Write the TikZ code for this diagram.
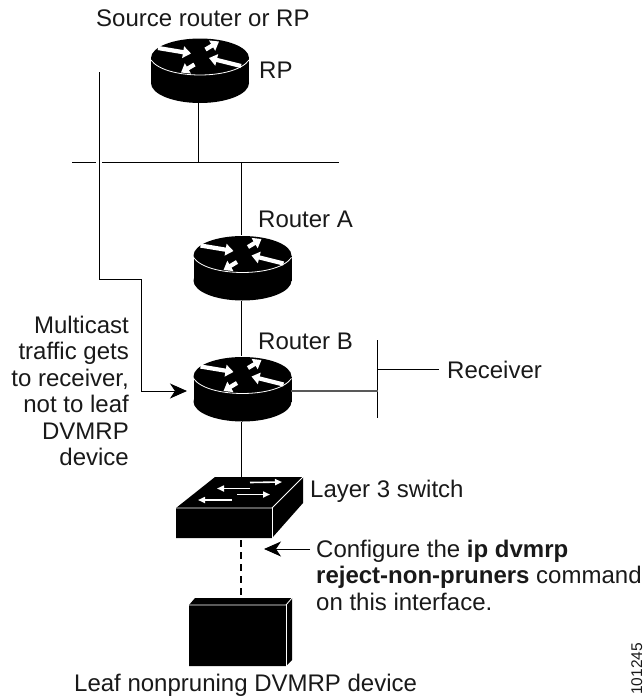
\documentclass[tikz,border=0pt]{standalone}
\usepackage{fontspec}
\setmainfont{Liberation Sans}
\usetikzlibrary{arrows.meta}
\tikzset{
  x=1pt,y=-1pt,
  wire/.style={line width=1pt,draw=black},
  lab/.style={inner sep=0pt,font=\fontsize{24}{26.5}\selectfont,text=black!90},
  devicebox/.style={inner sep=0pt,draw=none,minimum width=98pt,minimum height=65pt},
  wa/.style={draw=white,line width=4.2pt,-{Triangle[length=8pt,width=11.5pt]}},
  swa/.style={draw=white,line width=1.6pt,-{Triangle[length=7pt,width=6pt]}},
}
\newcommand{\routerbody}[2]{%
  \begin{scope}[shift={(#1,#2)}]
    \fill[black] (-49,0) rectangle (49,25);
    \fill[black] (0,25) ellipse[x radius=49,y radius=20];
    \fill[black] (0,0) ellipse[x radius=49,y radius=19.5];
    \draw[white,line width=.8pt] (-49,2) .. controls (-35,22) and (35,22) .. (49,2);
    \draw[wa] (-42,-10) -- (-9,-4.5);
    \draw[wa] (5.5,-8.5) -- (19,-16.5);
    \draw[wa] (-5.5,6.5) -- (-19,14.5);
    \draw[wa] (41,8) -- (9,0);
  \end{scope}}
\begin{document}
\begin{tikzpicture}
\useasboundingbox (0,0) rectangle (644,696);
% devices
\routerbody{200}{58}
\routerbody{242.5}{255.5}
\routerbody{242.5}{376.5}
\node[devicebox] (rp) at (200,70.5) {};
\node[devicebox] (ra) at (242.5,268) {};
\node[devicebox] (rb) at (242.5,389) {};
% switch
\fill[black] (176,508) -- (215,477) -- (303,477) -- (303,503) -- (272,538) -- (176,538) -- cycle;
\draw[white,line width=.8pt] (176,508) -- (272,508) -- (303,477);
\draw[white,line width=.8pt] (272,508) -- (272,538);
\draw[swa] (250,482.5) -- (282,482);
\draw[swa] (250,488.5) -- (217,488.5);
\draw[swa] (237,494.5) -- (270,494.5);
\draw[swa] (232,500) -- (198,500);
\node[inner sep=0pt,minimum width=127pt,minimum height=61pt] (sw) at (239.5,507.5) {};
% leaf
\fill[black] (189,605) -- (195,598) -- (292,598) -- (292,660) -- (286,666) -- (189,666) -- cycle;
\draw[white,line width=.8pt] (189,605) -- (286,605) -- (292,598);
\draw[white,line width=.8pt] (286,605) -- (286,666);
\node[inner sep=0pt,minimum width=103pt,minimum height=68pt] (leaf) at (240.5,632) {};
% connectors
\coordinate (busL) at (72,162);
\coordinate (busR) at (339,162);
\coordinate (busgapL) at (96,162);
\coordinate (busgapR) at (102,162);
\coordinate (xrp) at (198,162);
\coordinate (xa) at (241,162);
\draw[wire] (busL) -- (busgapL);
\draw[wire] (busgapR) -- (busR);
\draw[wire] (rp.south -| xrp) -- (xrp);
\draw[wire] (xa) -- (ra.north -| xa);
\draw[wire] (ra.south -| xa) -- (rb.north -| xa);
\draw[wire] (rb.south -| xa) -- (sw.north -| xa);
\draw[wire,line width=1.2pt,dash pattern=on 7pt off 5pt] (sw.south -| xa) ++(0,2) -- (leaf.north -| xa);
% traffic path
\coordinate (pathA) at (99.5,72);
\coordinate (pathB) at (99.5,279);
\coordinate (pathC) at (141,279);
\coordinate (pathD) at (141,391);
\coordinate (pathE) at (187,391);
\draw[wire,-{Stealth[length=17pt,width=15pt,inset=5pt]}] (pathA) -- (pathB) -- (pathC) -- (pathD) -- (pathE);
% receiver LAN
\coordinate (lanT) at (377,340);
\coordinate (lanB) at (377,418);
\coordinate (lanR) at (378,391);
\coordinate (lanRx) at (377,369);
\coordinate (rxEnd) at (439,369);
\coordinate (rbR) at (291,391);
\draw[wire] (lanT) -- (lanB);
\draw[line width=1.4pt,draw=black!65] (rbR) -- (lanR);
\draw[wire] (lanRx) -- (rxEnd);
% config arrow
\coordinate (cfgTail) at (310,549);
\coordinate (cfgTip) at (264,549);
\draw[wire,-{Stealth[length=17pt,width=15pt,inset=5pt]}] (cfgTail) -- (cfgTip);
% labels
\node[lab,anchor=base west] (t1) at (96,27) {Source router or RP};
\node[lab,anchor=base west] (t2) at (259,78) {RP};
\node[lab,anchor=base west] (t3) at (258,227) {Router A};
\node[lab,anchor=base west] (t4) at (258,349) {Router B};
\node[lab,anchor=base west] (t5) at (447,378) {Receiver};
\node[lab,anchor=base west] (t6) at (310,497) {Layer 3 switch};
\node[lab,align=right,anchor=base east] (t7) at (129,465.5) {Multicast\\traffic gets\\to receiver,\\not to leaf\\DVMRP\\device};
\node[lab,align=left,anchor=base west] (t8) at (316,610) {Configure the \textbf{ip dvmrp}\\\textbf{reject-non-pruners} command\\on this interface.};
\node[lab,anchor=base west] (t9) at (74,691) {Leaf nonpruning DVMRP device};
\node[inner sep=0pt,font=\fontsize{15.5}{18}\selectfont,rotate=90,anchor=base west,text=black!90] (t10) at (642,695) {101245};
\end{tikzpicture}
\end{document}
